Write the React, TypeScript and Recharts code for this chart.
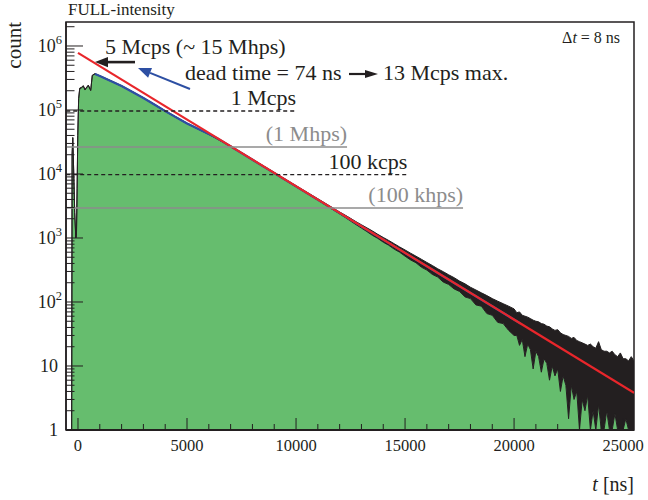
import {
  Area,
  ComposedChart,
  Line,
  ReferenceArea,
  ReferenceDot,
  ReferenceLine,
  XAxis,
  YAxis,
} from 'recharts'

const FONT = '"Liberation Serif", "Times New Roman", serif'
const INK = '#231f20'
const GREEN = '#66bd6e'
const BLUE = '#2d4fa3'
const RED = '#e8262b'
const GREY = '#8c8c8c'

const T_MIN = -550
const T_MAX = 25500
const COUNT_MIN = 1
const COUNT_MAX = 2.37e6

// histogram: time bin (ns), lower / upper edge of the drawn line
const T_NS = [
  -290, -270, -240, -200, -150, -100, -70, -40, -10, 30, 80, 150, 245, 320, 367, 472, 583, 656, 780,
  1000, 1500, 2000, 2500, 3000, 3500, 4000, 5000, 6000, 7000, 8000, 9000, 10000, 11000,
  12000, 12250, 12500, 12750, 13000, 13250, 13500, 13750, 14000, 14250, 14500, 14750, 15000, 15250,
  15500, 15750, 16000, 16250, 16500, 16750, 17000, 17250, 17500, 17750, 18000, 18250, 18500, 18750,
  19000, 19250, 19500, 19750, 20000,
  20125, 20250, 20375, 20500, 20625, 20750, 20875, 21000, 21125, 21250, 21375, 21500, 21625, 21750,
  21875, 22000, 22125, 22250, 22375, 22500, 22625, 22750, 22875, 23000, 23125, 23250, 23375, 23500,
  23625, 23750, 23875, 24000, 24125, 24250, 24375, 24500, 24625, 24750, 24875, 25000, 25125, 25250,
  25375, 25500,
]
const COUNT_LOW = [
  1, 2.0e4, 3.7e4, 1.2e4, 2.5e3, 1.0e3, 1.1e3, 6.0e3, 4.0e4, 1.5e5, 2.15e5, 2.2e5, 2.35e5, 2.05e5, 2.15e5, 2.4e5, 2.0e5, 3.45e5, 3.65e5,
  3.38e5, 2.82e5, 2.35e5, 1.9e5, 1.53e5, 1.21e5, 9.5e4, 6.1e4, 4.15e4, 2.68e4, 1.65e4, 1.02e4, 6300, 3900,
  2380, 2100, 1840, 1620, 1430, 1260, 1100, 985, 860, 770, 670, 600, 520, 455,
  410, 350, 315, 270, 245, 205, 188, 160, 146, 120, 113, 90, 86, 66,
  62, 48, 46, 36, 30,
  30, 21, 26, 14, 22, 18, 9, 17, 14, 8, 13, 11, 6, 10,
  7, 9, 4, 7, 5, 1.5, 5, 3, 4, 1, 3, 2, 3.5, 1,
  2, 1, 2.5, 1, 1, 2, 1, 1, 1.8, 1, 1, 1, 1.5, 1,
  1, 1,
]
const COUNT_HIGH = [
  1, 2.0e4, 3.7e4, 1.2e4, 2.5e3, 1.0e3, 1.1e3, 6.0e3, 4.0e4, 1.5e5, 2.2e5, 2.25e5, 2.4e5, 2.1e5, 2.2e5, 2.45e5, 2.05e5, 3.5e5, 3.7e5,
  3.44e5, 2.88e5, 2.4e5, 1.94e5, 1.56e5, 1.24e5, 9.75e4, 6.25e4, 4.25e4, 2.76e4, 1.7e4, 1.06e4, 6560, 4100,
  2550, 2280, 2030, 1800, 1610, 1440, 1290, 1140, 1020, 915, 815, 725, 650, 580,
  520, 465, 415, 372, 330, 298, 266, 240, 212, 192, 170, 154, 139, 126,
  113, 103, 94, 86, 78,
  68, 70, 62, 60, 58, 55, 52, 50, 49, 46, 45, 42, 41, 38,
  36, 37, 33, 31, 30, 29, 27, 28, 25, 24, 23, 22, 21, 22,
  20, 19, 24, 18, 17, 17, 16, 17, 15, 14, 16, 13, 13, 12,
  14, 12,
]

// fitted curve (blue) and its extrapolation (red)
const FIT_T = [780, 1000, 1500, 2000, 2500, 3000, 3500, 4000, 5000, 6000, 6400, 20300]
const FIT_COUNT = [3.65e5, 3.4e5, 2.84e5, 2.37e5, 1.91e5, 1.54e5, 1.22e5, 9.6e4, 6.15e4, 4.2e4, 3.6e4, 46]
const EXTRAP_T = [0, 25500]
const EXTRAP_COUNT = [7.8e5, 3.8]

// rate guide lines: level, end time, label
const RATE_LEVELS = [9.65e4, 9.8e3]
const RATE_ENDS = [10000, 15100]
const RATE_LABELS = ['1 Mcps', '100 kcps']
const HIT_LEVELS = [2.64e4, 2.94e3]
const HIT_ENDS = [12340, 17660]
const HIT_LABELS = ['(1 Mhps)', '(100 khps)']

const X_TICKS = [
  0, 1000, 2000, 3000, 4000, 5000, 6000, 7000, 8000, 9000, 10000, 11000, 12000, 13000, 14000, 15000,
  16000, 17000, 18000, 19000, 20000, 21000, 22000, 23000, 24000, 25000,
]
const X_LABELED = [0, 5000, 10000, 15000, 20000, 25000]
const Y_DECADES = [1, 10, 100, 1000, 1e4, 1e5, 1e6]
const Y_STEPS = [1, 2, 3, 4, 5, 6, 7, 8, 9]
const Y_TICKS = Y_DECADES.flatMap((d) => Y_STEPS.map((m) => m * d)).filter((v) => v <= COUNT_MAX)

const histogram = T_NS.map((t, i) => ({ t, low: COUNT_LOW[i], high: COUNT_HIGH[i] }))
const fit = FIT_T.map((t, i) => ({ t, count: FIT_COUNT[i] }))
const extrap = EXTRAP_T.map((t, i) => ({ t, count: EXTRAP_COUNT[i] }))

const XTick = ({ x, y, payload }: any) => {
  const major = X_LABELED.includes(payload.value)
  return (
    <g>
      <line x1={x} x2={x} y1={y} y2={y - (major ? 12 : 6)} stroke={INK} />
      {major && (
        <text x={x} y={y + 21} textAnchor="middle" fontSize={16.5} fontFamily={FONT} fill={INK}>
          {payload.value}
        </text>
      )}
    </g>
  )
}

const YTick = ({ x, y, payload }: any) => {
  const v = payload.value
  const major = Y_DECADES.includes(v)
  const exp = Math.round(Math.log10(v))
  return (
    <g>
      <line x1={x} x2={x + (major ? 17 : 8.5)} y1={y} y2={y} stroke={INK} />
      {major && (
        <text
          x={x - (exp > 1 ? 4 : 8)}
          y={y + 6}
          textAnchor="end"
          fontSize={18}
          fontFamily={FONT}
          fill={INK}
        >
          {exp === 0 ? '1' : '10'}
          {exp > 1 && (
            <tspan dy={-8} fontSize={12.5}>
              {exp}
            </tspan>
          )}
        </text>
      )}
    </g>
  )
}

const arrowShape = (color: string, width: number, head: number) => (p: any) => {
  const { x1, y1, x2, y2 } = p
  const len = Math.hypot(x2 - x1, y2 - y1)
  const ux = (x2 - x1) / len
  const uy = (y2 - y1) / len
  const bx = x2 - ux * head
  const by = y2 - uy * head
  const w = head * 0.4
  return (
    <g>
      <line x1={x1} y1={y1} x2={bx} y2={by} stroke={color} strokeWidth={width} />
      <polygon
        points={`${x2},${y2} ${bx - uy * w},${by + ux * w} ${bx + uy * w},${by - ux * w}`}
        fill={color}
      />
    </g>
  )
}

const guideLabel = (text: string, color: string) => ({ viewBox }: any) => (
  <text
    x={viewBox.x + viewBox.width}
    y={viewBox.y - 6}
    textAnchor="end"
    fontSize={22}
    fontFamily={FONT}
    fill={color}
  >
    {text}
  </text>
)

const textStyle = { fontSize: 22, fontFamily: FONT, fill: INK }

export default function App() {
  return (
    <div style={{ position: 'absolute', left: 0, top: 0, width: 648, height: 500, background: '#fff' }}>
      <div
        style={{
          position: 'absolute',
          left: 68,
          top: 1,
          fontFamily: FONT,
          fontSize: 17,
          lineHeight: '17px',
          color: INK,
          whiteSpace: 'nowrap',
        }}
      >
        FULL-intensity
      </div>
      <ComposedChart width={648} height={500} margin={{ top: 22, right: 14, bottom: 0, left: 0 }}>
        <XAxis
          dataKey="t"
          type="number"
          domain={[T_MIN, T_MAX]}
          allowDataOverflow
          ticks={X_TICKS}
          interval={0}
          tick={<XTick />}
          tickSize={0}
          tickMargin={0}
          tickLine={false}
          height={70}
          axisLine={{ stroke: INK, strokeWidth: 2 }}
          label={{
            content: ({ viewBox }: any) => (
              <text
                x={viewBox.x + viewBox.width}
                y={viewBox.y + 61}
                textAnchor="end"
                fontSize={20}
                fontFamily={FONT}
                fill={INK}
              >
                <tspan fontStyle="italic">t</tspan> [ns]
              </text>
            ),
          }}
        />
        <YAxis
          type="number"
          scale="log"
          domain={[COUNT_MIN, COUNT_MAX]}
          allowDataOverflow
          ticks={Y_TICKS}
          interval={0}
          tick={<YTick />}
          tickSize={0}
          tickMargin={0}
          tickLine={false}
          width={66}
          axisLine={{ stroke: INK, strokeWidth: 1.5 }}
          label={{
            content: ({ viewBox }: any) => (
              <text
                transform={`translate(${viewBox.x + 21},${viewBox.y}) rotate(-90)`}
                textAnchor="end"
                fontSize={21}
                fontFamily={FONT}
                fill={INK}
              >
                count
              </text>
            ),
          }}
        />

        <Area
          data={histogram}
          dataKey="low"
          type="linear"
          baseValue={COUNT_MIN}
          fill={GREEN}
          fillOpacity={1}
          stroke="none"
          isAnimationActive={false}
        />
        <Area
          data={histogram}
          dataKey={(d: any) => [d.low, d.high]}
          type="linear"
          fill={INK}
          fillOpacity={1}
          stroke={INK}
          strokeWidth={1}
          isAnimationActive={false}
        />
        <Line
          data={fit}
          dataKey="count"
          type="linear"
          stroke={BLUE}
          strokeWidth={2.2}
          dot={false}
          isAnimationActive={false}
        />
        <Line
          data={extrap}
          dataKey="count"
          type="linear"
          stroke={RED}
          strokeWidth={2.2}
          dot={false}
          isAnimationActive={false}
        />

        {RATE_LEVELS.map((lvl, i) => (
          <ReferenceLine
            key={RATE_LABELS[i]}
            segment={[
              { x: T_MIN + 10, y: lvl },
              { x: RATE_ENDS[i], y: lvl },
            ]}
            stroke={INK}
            strokeWidth={1.3}
            strokeDasharray="4 3"
            label={guideLabel(RATE_LABELS[i], INK)}
          />
        ))}
        {HIT_LEVELS.map((lvl, i) => (
          <ReferenceLine
            key={HIT_LABELS[i]}
            segment={[
              { x: T_MIN + 10, y: lvl },
              { x: HIT_ENDS[i], y: lvl },
            ]}
            stroke={GREY}
            strokeWidth={1.6}
            label={guideLabel(HIT_LABELS[i], GREY)}
          />
        ))}

        <ReferenceLine
          segment={[
            { x: 2615, y: 5.6e5 },
            { x: 780, y: 5.6e5 },
          ]}
          shape={arrowShape(INK, 2.6, 13)}
        />
        <ReferenceLine
          segment={[
            { x: 5137, y: 2.13e5 },
            { x: 2752, y: 4.53e5 },
          ]}
          shape={arrowShape(BLUE, 2, 13)}
        />

        <ReferenceDot
          x={1238}
          y={7.5e5}
          r={0.01}
          fill="none"
          stroke="none"
          label={({ viewBox }: any) => (
            <text x={viewBox.x} y={viewBox.y} {...textStyle}>
              5 Mcps (~ 15 Mhps)
            </text>
          )}
        />
        <ReferenceDot
          x={4908}
          y={2.94e5}
          r={0.01}
          fill="none"
          stroke="none"
          label={({ viewBox }: any) => (
            <g>
              <text x={viewBox.x} y={viewBox.y} {...textStyle}>
                dead time = 74 ns
              </text>
              <line
                x1={viewBox.x + 164}
                x2={viewBox.x + 182}
                y1={viewBox.y - 6}
                y2={viewBox.y - 6}
                stroke={INK}
                strokeWidth={2.2}
              />
              <polygon
                points={`${viewBox.x + 193},${viewBox.y - 6} ${viewBox.x + 180},${viewBox.y - 10} ${viewBox.x + 180},${viewBox.y - 2}`}
                fill={INK}
              />
              <text x={viewBox.x + 198} y={viewBox.y} {...textStyle}>
                13 Mcps max.
              </text>
            </g>
          )}
        />
        <ReferenceDot
          x={24862}
          y={1.11e6}
          r={0.01}
          fill="none"
          stroke="none"
          label={({ viewBox }: any) => (
            <text x={viewBox.x} y={viewBox.y} textAnchor="end" fontSize={16} fontFamily={FONT} fill={INK}>
              Δ<tspan fontStyle="italic">t</tspan> = 8 ns
            </text>
          )}
        />

        <ReferenceArea
          x1={T_MIN}
          x2={T_MAX}
          y1={COUNT_MIN}
          y2={COUNT_MAX}
          fill="none"
          stroke={INK}
          strokeWidth={1.5}
          ifOverflow="visible"
        />
      </ComposedChart>
    </div>
  )
}
